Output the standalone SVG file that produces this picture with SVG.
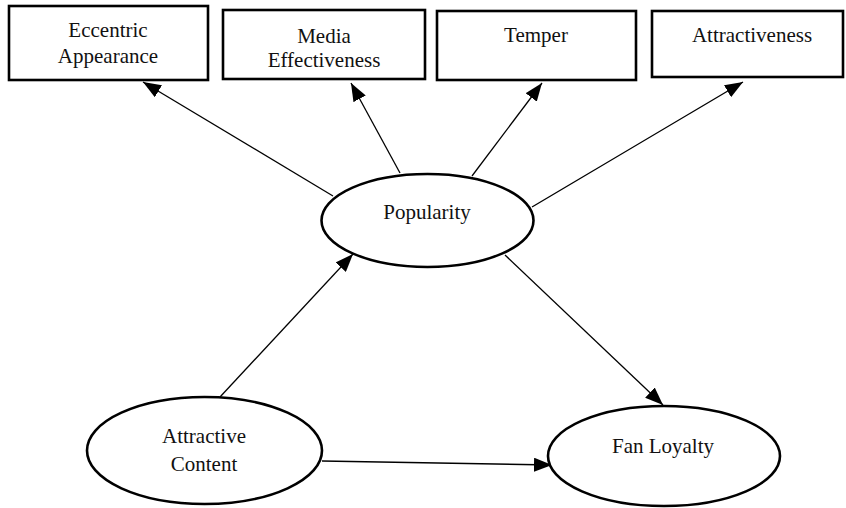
<svg xmlns="http://www.w3.org/2000/svg" width="846" height="508" viewBox="0 0 846 508">
<style>
.box{fill:#fff;stroke:#000;stroke-width:2.6}
.ell{fill:#fff;stroke:#000;stroke-width:2.6}
.lbl{font-family:"Liberation Serif","Times New Roman",serif;font-size:21px;fill:#111;text-anchor:middle}
.edge{stroke:#000;stroke-width:1.3;fill:none;marker-end:url(#ah)}
</style>
<defs>
<marker id="ah" viewBox="0 0 18 14" refX="18" refY="7" markerWidth="18" markerHeight="14" markerUnits="userSpaceOnUse" orient="auto">
<path d="M0,0 L18,7 L0,14 z" fill="#000"/>
</marker>
</defs>
<rect width="846" height="508" fill="#fff"/>
<g id="connectors">
<line class="edge" x1="333" y1="196" x2="143" y2="82"/>
<line class="edge" x1="400" y1="173" x2="351" y2="83"/>
<line class="edge" x1="472" y1="176" x2="542" y2="83"/>
<line class="edge" x1="532" y1="207" x2="743" y2="82"/>
<line class="edge" x1="220" y1="397" x2="353" y2="254"/>
<line class="edge" x1="505" y1="255" x2="663" y2="405"/>
<line class="edge" x1="322" y1="461" x2="552" y2="465"/>
</g>
<g id="eccentric-appearance">
<rect class="box" x="9" y="6" width="199" height="74"/>
<text class="lbl" x="108" y="37">Eccentric</text>
<text class="lbl" x="108" y="63">Appearance</text>
</g>
<g id="media-effectiveness">
<rect class="box" x="223" y="10" width="202" height="69"/>
<text class="lbl" x="324" y="43">Media</text>
<text class="lbl" x="324" y="67">Effectiveness</text>
</g>
<g id="temper">
<rect class="box" x="437" y="11" width="199" height="69"/>
<text class="lbl" x="536" y="42">Temper</text>
</g>
<g id="attractiveness">
<rect class="box" x="652" y="11" width="191" height="66"/>
<text class="lbl" x="752" y="42">Attractiveness</text>
</g>
<g id="popularity">
<ellipse class="ell" cx="427.5" cy="220.5" rx="106" ry="46.5"/>
<text class="lbl" x="427" y="219">Popularity</text>
</g>
<g id="attractive-content">
<ellipse class="ell" cx="204.5" cy="450.5" rx="117.5" ry="53.5"/>
<text class="lbl" x="204" y="443">Attractive</text>
<text class="lbl" x="204" y="471">Content</text>
</g>
<g id="fan-loyalty">
<ellipse class="ell" cx="664" cy="456" rx="116" ry="50"/>
<text class="lbl" x="663" y="453">Fan Loyalty</text>
</g>
</svg>
